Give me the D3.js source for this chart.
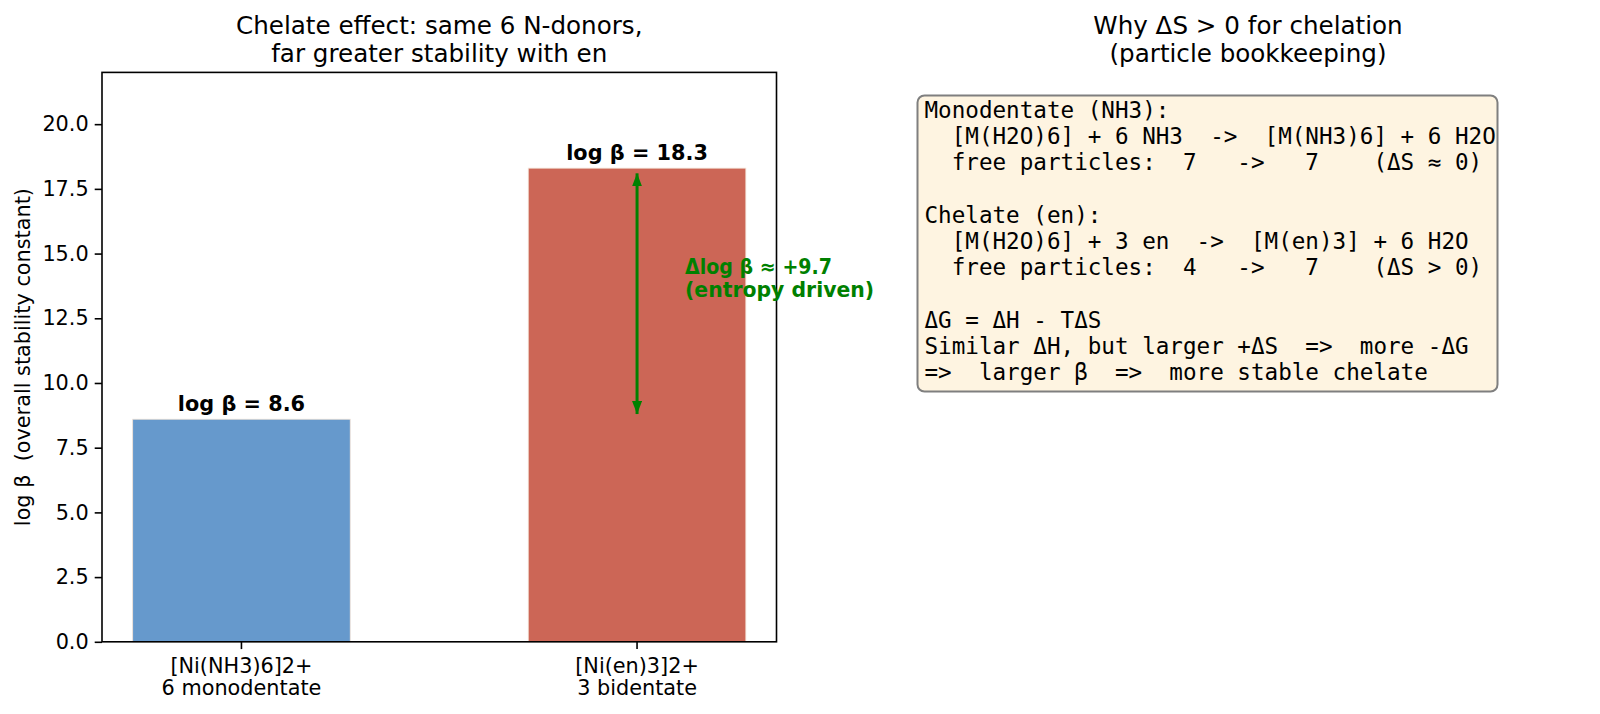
<!DOCTYPE html>
<html>
<head>
<meta charset="utf-8">
<script src="https://cdn.jsdelivr.net/npm/d3@7"></script>
<style>
  body { margin: 0; background: #fff; }
  svg text { font-family: "DejaVu Sans", sans-serif; white-space: pre; }
  .mono { font-family: "DejaVu Sans Mono", monospace; }
</style>
</head>
<body>
<div id="chart"></div>
<script>
// data
const categories = ["[Ni(NH3)6]2+", "[Ni(en)3]2+"];
const subLabels = ["6 monodentate", "3 bidentate"];
const logBeta = [8.6, 18.3];
const barColors = ["#6699cc", "#cc6656"];
const yTicks = [0, 2.5, 5, 7.5, 10, 12.5, 15, 17.5, 20];
const noteLines = [
  "Monodentate (NH3):",
  "  [M(H2O)6] + 6 NH3  ->  [M(NH3)6] + 6 H2O",
  "  free particles:  7   ->   7    (\u0394S \u2248 0)",
  "",
  "Chelate (en):",
  "  [M(H2O)6] + 3 en  ->  [M(en)3] + 6 H2O",
  "  free particles:  4   ->   7    (\u0394S > 0)",
  "",
  "\u0394G = \u0394H - T\u0394S",
  "Similar \u0394H, but larger +\u0394S  =>  more -\u0394G",
  "=>  larger \u03b2  =>  more stable chelate"
];

const W = 1600, H = 714;
const ax = {left: 102, right: 776.5, top: 72.4, bottom: 641.8};

const svg = d3.select("#chart").append("svg")
  .attr("width", W).attr("height", H);

const x = d3.scaleBand()
  .domain(categories)
  .range([ax.left, ax.right])
  .paddingInner(0.45)
  .paddingOuter(0.0775);

const y = d3.scaleLinear()
  .domain([0, 22])
  .range([ax.bottom, ax.top]);

// bars
svg.append("g")
  .selectAll("rect")
  .data(logBeta)
  .join("rect")
  .attr("x", (d, i) => x(categories[i]))
  .attr("y", d => y(d))
  .attr("width", x.bandwidth())
  .attr("height", d => y(0) - y(d))
  .attr("fill", (d, i) => barColors[i])
  .attr("stroke", "#f3e3d6")
  .attr("stroke-width", 0.8);

// value labels
svg.append("g")
  .selectAll("text")
  .data(logBeta)
  .join("text")
  .attr("x", (d, i) => x(categories[i]) + x.bandwidth() / 2)
  .attr("y", d => y(d) - 8)
  .attr("text-anchor", "middle")
  .attr("font-size", 20.8)
  .attr("font-weight", "bold")
  .text(d => "log \u03b2 = " + d.toFixed(1));

// double-headed arrow between the two values
const ax2 = x(categories[1]) + x.bandwidth() / 2;
const defs = svg.append("defs");
defs.append("marker")
  .attr("id", "head")
  .attr("viewBox", "0 0 13 10")
  .attr("refX", 13).attr("refY", 5)
  .attr("markerWidth", 13).attr("markerHeight", 10)
  .attr("markerUnits", "userSpaceOnUse")
  .attr("orient", "auto-start-reverse")
  .append("path")
  .attr("d", "M0,0 L13,5 L0,10 Z")
  .attr("fill", "green");

svg.append("line")
  .attr("x1", ax2).attr("x2", ax2)
  .attr("y1", y(logBeta[0] + 0.2))
  .attr("y2", y(logBeta[1] - 0.2))
  .attr("stroke", "green")
  .attr("stroke-width", 3)
  .attr("marker-start", "url(#head)")
  .attr("marker-end", "url(#head)");

// axes
const yAxis = svg.append("g")
  .attr("transform", `translate(${ax.left},0)`)
  .call(d3.axisLeft(y).tickValues(yTicks).tickFormat(d3.format(".1f"))
    .tickSize(7.3).tickPadding(6));
const xAxis = svg.append("g")
  .attr("transform", `translate(0,${ax.bottom})`)
  .call(d3.axisBottom(x).tickSize(7.3).tickFormat(""));

[yAxis, xAxis].forEach(g => {
  g.select(".domain").remove();
  g.selectAll(".tick line").attr("stroke", "#000").attr("stroke-width", 1.6);
});
yAxis.selectAll(".tick text")
  .attr("font-size", 20.8).attr("fill", "#000")
  .attr("font-family", "DejaVu Sans, sans-serif");

// two-line category labels
xAxis.selectAll(".tick").each(function(d, i) {
  const t = d3.select(this).append("text")
    .attr("text-anchor", "middle")
    .attr("font-size", 20.8)
    .attr("fill", "#000")
    .attr("font-family", "DejaVu Sans, sans-serif");
  t.append("tspan").attr("x", 0).attr("y", 31).text(categories[i]);
  t.append("tspan").attr("x", 0).attr("y", 53.5).text(subLabels[i]);
});

// frame
svg.append("rect")
  .attr("x", ax.left).attr("y", ax.top)
  .attr("width", ax.right - ax.left).attr("height", ax.bottom - ax.top)
  .attr("fill", "none").attr("stroke", "#000").attr("stroke-width", 1.6);

// annotation (drawn over the frame, like the original)
const ann = svg.append("text")
  .attr("font-size", 20.4)
  .attr("font-weight", "bold")
  .attr("fill", "green");
ann.append("tspan").attr("x", ax2 + 48).attr("y", y(14) - 5)
  .attr("textLength", 147).attr("lengthAdjust", "spacingAndGlyphs")
  .text("\u0394log \u03b2 \u2248 +9.7");
ann.append("tspan").attr("x", ax2 + 48).attr("y", y(14) + 18).text("(entropy driven)");

// y label
svg.append("text")
  .attr("transform", `translate(30,${(ax.top + ax.bottom) / 2}) rotate(-90)`)
  .attr("text-anchor", "middle")
  .attr("font-size", 20.8)
  .text("log \u03b2  (overall stability constant)");

// titles
function title(cx, lines) {
  const t = svg.append("text").attr("text-anchor", "middle").attr("font-size", 24.6);
  lines.forEach((l, i) => t.append("tspan").attr("x", cx).attr("y", 33.5 + i * 28).text(l));
}
title((ax.left + ax.right) / 2, ["Chelate effect: same 6 N-donors,", "far greater stability with en"]);
title(1248, ["Why \u0394S > 0 for chelation", "(particle bookkeeping)"]);

// text box on the right
svg.append("rect")
  .attr("x", 917.5).attr("y", 95.5)
  .attr("width", 580).attr("height", 296)
  .attr("rx", 7).attr("ry", 7)
  .attr("fill", "#fef4e1")
  .attr("stroke", "#7f7f7f")
  .attr("stroke-width", 2);

svg.append("g")
  .selectAll("text")
  .data(noteLines)
  .join("text")
  .attr("class", "mono")
  .attr("x", 924.5)
  .attr("y", (d, i) => 118 + i * 26.24)
  .attr("font-size", 22.6)
  .attr("fill", "#000")
  .text(d => d);
</script>
</body>
</html>
